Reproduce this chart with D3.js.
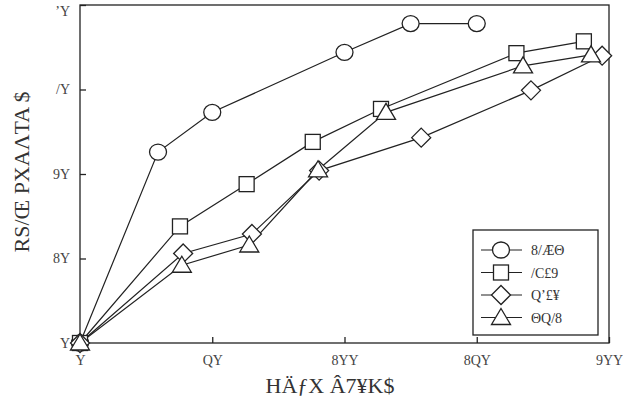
<!DOCTYPE html>
<html><head><meta charset="utf-8">
<script src="https://cdn.jsdelivr.net/npm/d3@7"></script>
<style>body{margin:0;background:#fff}svg{display:block}text{font-family:"Liberation Serif","DejaVu Serif",serif;fill:#222}</style>
</head><body><svg id="c" width="623" height="406"></svg>
<script>
const xTicks = [0, 50, 100, 150, 200];
const xTickLabels = ["Y", "QY", "8YY", "8QY", "9YY"];
const yTicks = [0, 10, 20, 30, 40];
const yTickLabels = ["Y", "8Y", "9Y", "/Y", "ʼY"];
const xTitle = "HÄƒX  Â7¥K$";
const yTitle = "RS/Œ PXAΛTA  $";
const seriesNames = ["8/ÆΘ", "/C£9", "Qʼ£¥", "ΘQ/8"];
const seriesShapes = ["circle", "square", "diamond", "triangle"];
const circleX = [0, 29.5, 50, 100, 125, 150];
const circleY = [0, 22.6, 27.3, 34.4, 37.8, 37.8];
const squareX = [0, 37.8, 63, 88, 113.8, 165, 190.5];
const squareY = [0, 13.8, 18.8, 23.8, 27.7, 34.3, 35.7];
const diamondX = [0, 39, 65, 90.4, 129, 170.5, 197.4];
const diamondY = [0, 10.6, 12.9, 20.4, 24.3, 29.9, 34];
const triangleX = [0, 38.5, 64, 90, 115.7, 167.5, 193.2];
const triangleY = [0, 9.2, 11.6, 20.5, 27.3, 32.8, 34.1];

const series = [
  {name: seriesNames[0], shape: seriesShapes[0], xs: circleX, ys: circleY},
  {name: seriesNames[1], shape: seriesShapes[1], xs: squareX, ys: squareY},
  {name: seriesNames[2], shape: seriesShapes[2], xs: diamondX, ys: diamondY},
  {name: seriesNames[3], shape: seriesShapes[3], xs: triangleX, ys: triangleY}
];

const svg = d3.select("#c");
const L = 80, R = 609, T = 5, B = 343;
const x = d3.scaleLinear().domain([0, 200]).range([L, R]);
const y = d3.scaleLinear().domain([0, 40]).range([B, T]);

svg.append("rect").attr("x", L).attr("y", T).attr("width", R - L).attr("height", B - T)
  .attr("fill", "none").attr("stroke", "#222").attr("stroke-width", 1.3);

const xAxis = d3.axisBottom(x).tickValues(xTicks).tickFormat((d, i) => xTickLabels[i]).tickSize(-6).tickPadding(12);
const gx = svg.append("g").attr("transform", `translate(0,${B})`).call(xAxis);
gx.select(".domain").remove();
gx.selectAll("line").attr("stroke", "#222").attr("stroke-width", 1.3);
gx.selectAll("text").style("font-size", "14px").style("fill", "#444");

const yAxis = d3.axisLeft(y).tickValues(yTicks).tickFormat((d, i) => yTickLabels[i]).tickSize(-6).tickPadding(10);
const gy = svg.append("g").attr("transform", `translate(${L},0)`).call(yAxis);
gy.select(".domain").remove();
gy.selectAll("line").attr("stroke", "#222").attr("stroke-width", 1.3);
gy.selectAll("text").style("font-size", "14px").style("fill", "#444")
  .attr("dy", (d) => d === 40 ? "0.75em" : "0.32em");

svg.append("text").attr("x", 330).attr("y", 393).attr("text-anchor", "middle")
  .style("font-size", "22px").style("fill", "#333").text(xTitle);
svg.append("text").attr("transform", "translate(29,172) rotate(-90)").attr("text-anchor", "middle")
  .style("font-size", "22px").style("fill", "#333").text(yTitle);

function drawMarker(g, shape, cx, cy) {
  if (shape === "circle") {
    g.append("ellipse").attr("cx", cx).attr("cy", cy).attr("rx", 8.5).attr("ry", 8);
  } else if (shape === "square") {
    g.append("rect").attr("x", cx - 7.5).attr("y", cy - 7.5).attr("width", 15).attr("height", 15);
  } else if (shape === "diamond") {
    g.append("path").attr("d", `M${cx},${cy - 9.5}L${cx + 9.5},${cy}L${cx},${cy + 9.5}L${cx - 9.5},${cy}Z`);
  } else {
    g.append("path").attr("d", `M${cx},${cy - 9}L${cx + 9.5},${cy + 7}L${cx - 9.5},${cy + 7}Z`);
  }
}

const line = d3.line().x(d => x(d[0])).y(d => y(d[1]));
series.forEach(s => {
  const pts = s.xs.map((v, i) => [v, s.ys[i]]);
  svg.append("path").attr("d", line(pts)).attr("fill", "none").attr("stroke", "#222").attr("stroke-width", 1.2);
});
series.forEach(s => {
  const g = svg.append("g").attr("fill", "#fff").attr("stroke", "#222").attr("stroke-width", 1.3);
  s.xs.forEach((v, i) => drawMarker(g, s.shape, x(v), y(s.ys[i])));
});

const lg = svg.append("g");
lg.append("rect").attr("x", 473).attr("y", 230).attr("width", 125).attr("height", 105)
  .attr("fill", "#fff").attr("stroke", "#222").attr("stroke-width", 1.3);
series.forEach((s, i) => {
  const cy = 250 + i * 22.5;
  lg.append("line").attr("x1", 481).attr("x2", 522).attr("y1", cy).attr("y2", cy)
    .attr("stroke", "#222").attr("stroke-width", 1.2);
  const g = lg.append("g").attr("fill", "#fff").attr("stroke", "#222").attr("stroke-width", 1.3);
  drawMarker(g, s.shape, 501, cy);
  lg.append("text").attr("x", 531).attr("y", cy + 5).style("font-size", "14px").style("fill", "#333").text(s.name);
});
</script></body></html>
